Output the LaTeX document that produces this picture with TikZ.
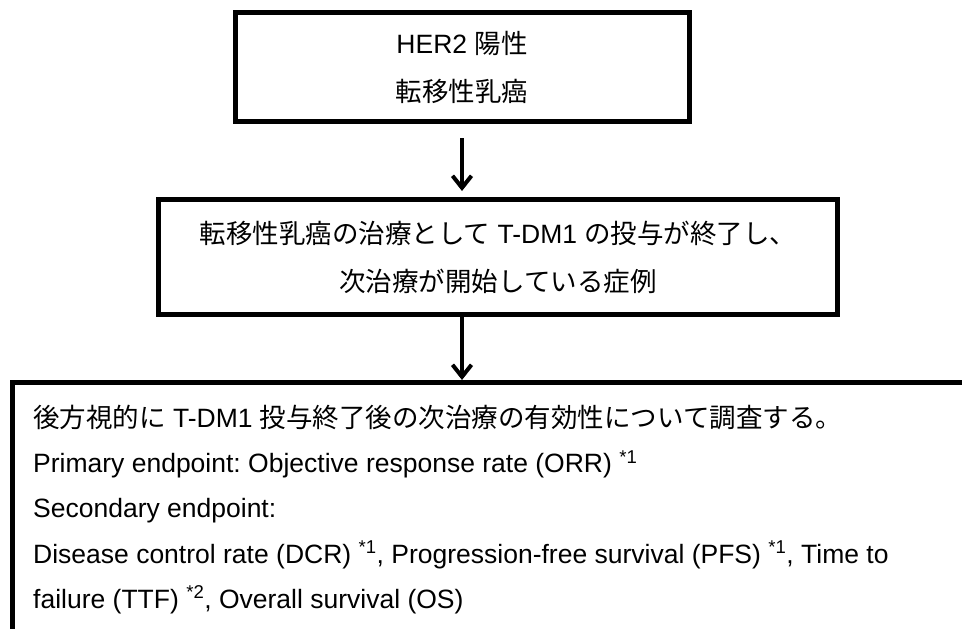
\documentclass[tikz,border=0pt]{standalone}
\usepackage{fontspec}
\setmainfont{Liberation Sans}
\newfontfamily\jpfont{Noto Sans CJK JP}
\usetikzlibrary{arrows.meta}
\newcommand\J[1]{{\jpfont #1}}
\frenchspacing
\begin{document}
\begin{tikzpicture}[x=1pt,y=-1pt,
  box/.style={draw, line width=5pt, inner sep=0pt, align=center},
  arr/.style={line width=4pt, -{Straight Barb[length=12pt,width=19pt]}},
  txt/.style={anchor=base west, inner sep=0pt},
  font=\fontsize{26.5}{48}\selectfont]
\path[use as bounding box, clip] (0,0) rectangle (962,629);
\node[box, minimum width=454pt, minimum height=109pt] (b1) at (462,67)
  {HER2 \J{陽性}\\\J{転移性乳癌}};
\node[box, minimum width=679pt, minimum height=115pt] (b2) at (498,257)
  {\J{転移性乳癌の治療として} T-DM1 \J{の投与が終了し、}\\\J{次治療が開始している症例}};
\node[box, minimum width=1000pt, minimum height=300pt] (b3) at (512.5,532.5) {};
\node[txt] (l1) at (33,427) {\J{後方視的に} T-DM1 \J{投与終了後の次治療の有効性について調査する。}};
\node[txt] (l2) at (33,472.5) {Primary endpoint: Objective response rate (ORR) \textsuperscript{*1}};
\node[txt] (l3) at (33,517.5) {Secondary endpoint:};
\node[txt] (l4) at (33,563) {Disease control rate (DCR) \textsuperscript{*1}, Progression-free survival (PFS) \textsuperscript{*1}, Time to};
\node[txt] (l5) at (33,608) {failure (TTF) \textsuperscript{*2}, Overall survival (OS)};
\draw[arr, shorten <=14pt, shorten >=6pt] (b1.south) -- (b1.south |- b2.north);
\draw[arr] (b1.south |- b2.south) -- (b1.south |- b3.north);
\end{tikzpicture}
\end{document}
